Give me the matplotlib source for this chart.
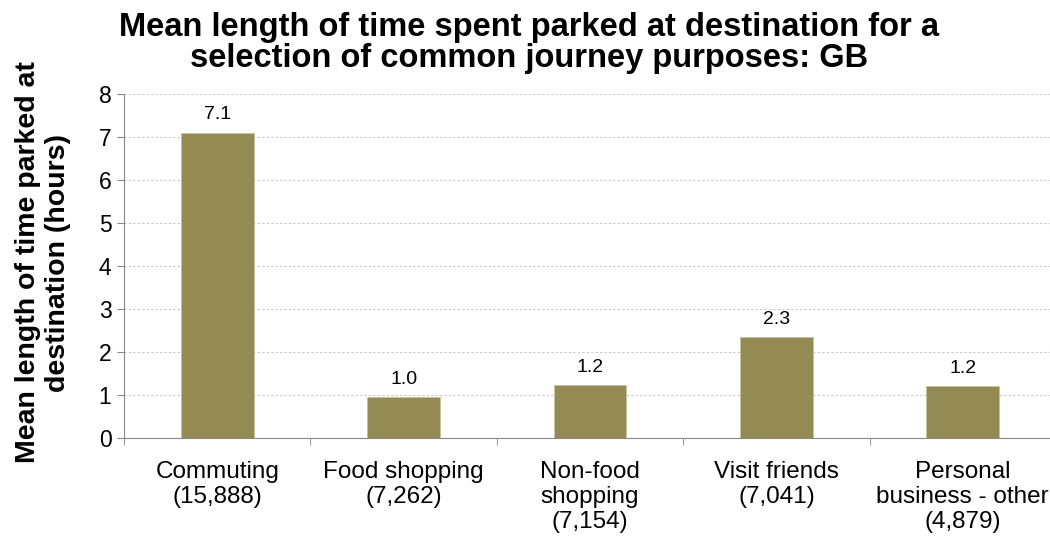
import matplotlib.pyplot as plt
import numpy as np

plt.rcParams['font.family'] = ['Liberation Sans', 'DejaVu Sans']

categories = ['Commuting\n(15,888)', 'Food shopping\n(7,262)', 'Non-food\nshopping\n(7,154)',
              'Visit friends\n(7,041)', 'Personal\nbusiness - other\n(4,879)']
mean_hours = [7.11, 0.95, 1.24, 2.35, 1.22]
labels = ['7.1', '1.0', '1.2', '2.3', '1.2']

fig = plt.figure(figsize=(10.5, 5.42), dpi=100)
ax = fig.add_axes([124 / 1050, 1 - 438.3 / 542, (1056 - 124) / 1050, (438.3 - 94.3) / 542])

x = np.arange(len(categories))
ax.bar(x, mean_hours, width=0.39, color='#948A54', edgecolor='#c9c29c', linewidth=0.6, zorder=3)
for xi, h, lab in zip(x, mean_hours, labels):
    ax.text(xi, h + 0.31, lab, ha='center', va='baseline', fontsize=14)

ax.set_xlim(-0.5, len(categories) - 0.5)
ax.set_ylim(0, 8)
ax.set_yticks(range(0, 9))
ax.yaxis.grid(True, linestyle=(0, (2, 2)), color='#c8c8c8', linewidth=0.8, zorder=0)
ax.set_xticks(x)
ax.set_xticklabels(categories, fontsize=17.5, linespacing=1.2)
ax.set_xticks(np.arange(-0.5, len(categories), 1), minor=True)
ax.tick_params(axis='x', which='major', length=0, pad=16)
ax.tick_params(axis='x', which='minor', length=5, color='#888888')
ax.tick_params(axis='y', length=5, color='#888888', labelsize=16.5, pad=4)

for s in ['top', 'right']:
    ax.spines[s].set_visible(False)
for s in ['left', 'bottom']:
    ax.spines[s].set_color('#888888')

ax.set_ylabel('Mean length of time parked at\ndestination (hours)', fontsize=20.5,
              fontweight='bold', linespacing=1.2)
ax.yaxis.set_label_coords(-0.057, 0.511)
fig.suptitle('Mean length of time spent parked at destination for a\nselection of common journey purposes: GB',
             fontsize=23.5, fontweight='bold', x=0.504, y=0.977, va='top', linespacing=1.0)

fig.savefig('out.png', dpi=100)
